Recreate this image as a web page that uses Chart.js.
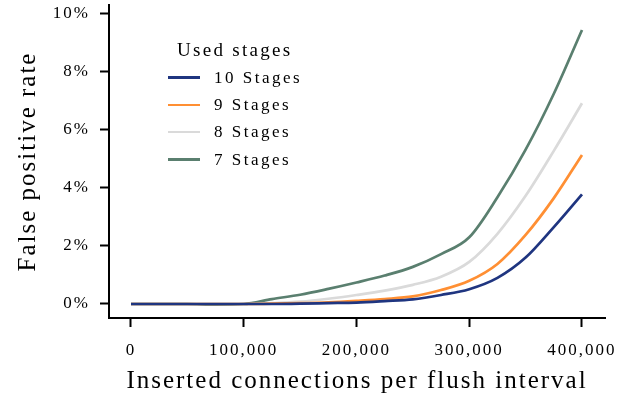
<!DOCTYPE html>
<html>
<head>
<meta charset="utf-8">
<script src="https://cdn.jsdelivr.net/npm/chart.js@4/dist/chart.umd.min.js"></script>
<style>
    html, body { margin: 0; padding: 0; background: #fff; }
    #wrap { position: relative; width: 631px; height: 398px; }
    #legend {
        position: absolute; left: 162px; top: 36px;
        font-family: 'Liberation Serif', serif; color: #000;
    }
    #legend .title { font-size: 19px; letter-spacing: 2.3px; margin-left: 15px; height: 28px; line-height: 28px; }
    #legend .item { display: flex; align-items: center; height: 27.3px; font-size: 17px; letter-spacing: 2.5px; }
    #legend .swatch { width: 32px; height: 2.5px; margin: 0 14px 0 6px; }
</style>
</head>
<body>
<div id="wrap">
    <canvas id="fprChart" width="631" height="398"></canvas>
    <div id="legend"></div>
</div>
<script>
// inserted connections per flush interval
const connections = [0, 25000, 50000, 75000, 100000, 125000, 150000, 175000, 200000, 225000, 250000, 275000, 300000, 325000, 350000, 375000, 400000];

// false positive rate in percent
const stages10 = [0, 0, 0, 0, 0, 0, 0.01, 0.03, 0.05, 0.10, 0.16, 0.31, 0.51, 0.90, 1.60, 2.65, 3.78];
const stages9  = [0, 0, 0, 0, 0, 0.01, 0.03, 0.06, 0.11, 0.17, 0.26, 0.48, 0.80, 1.38, 2.38, 3.65, 5.14];
const stages8  = [0, 0, 0, 0, 0, 0.03, 0.08, 0.18, 0.31, 0.46, 0.66, 0.94, 1.45, 2.42, 3.73, 5.28, 6.92];
const stages7  = [0, 0, 0, -0.02, 0, 0.17, 0.32, 0.52, 0.74, 0.98, 1.28, 1.72, 2.30, 3.68, 5.32, 7.25, 9.45];

const xTicks = [0, 100000, 200000, 300000, 400000];
const yTicks = [0, 2, 4, 6, 8, 10];

const series = [
    { label: '10 Stages', values: stages10, color: '#1f3580' },
    { label: '9 Stages', values: stages9, color: '#ff8f33' },
    { label: '8 Stages', values: stages8, color: '#dadada' },
    { label: '7 Stages', values: stages7, color: '#5a7f6f' }
];

const serif = "'Liberation Serif', serif";

// wider tracking for all canvas text, like the original figure
const tracking = {
    id: 'tracking',
    beforeDraw(chart) { chart.ctx.letterSpacing = '2px'; },
    afterDraw(chart) { chart.ctx.letterSpacing = '0px'; }
};

new Chart(document.getElementById('fprChart'), {
    type: 'line',
    data: {
        datasets: series.map(s => ({
            label: s.label,
            data: connections.map((c, i) => ({ x: c, y: s.values[i] })),
            borderColor: s.color,
            backgroundColor: s.color,
            borderWidth: 2.7,
            pointRadius: 0,
            cubicInterpolationMode: 'monotone'
        }))
    },
    options: {
        responsive: false,
        animation: false,
        layout: { padding: { top: 5, right: 26, left: 0, bottom: 0 } },
        scales: {
            x: {
                type: 'linear',
                min: -19500,
                max: 420400,
                afterBuildTicks: scale => { scale.ticks = xTicks.map(v => ({ value: v })); },
                afterFit: scale => { scale.height = 80; scale.paddingLeft = 0; scale.paddingRight = 0; },
                grid: { drawOnChartArea: false, tickLength: 9, tickWidth: 2, tickColor: '#000' },
                border: { color: '#000', width: 2 },
                ticks: {
                    color: '#000',
                    font: { family: serif, size: 17 },
                    padding: 13,
                    maxRotation: 0,
                    callback: v => v.toLocaleString('en-US')
                },
                title: {
                    display: true,
                    text: 'Inserted connections per flush interval',
                    color: '#000',
                    font: { family: serif, size: 25 },
                    padding: { top: 0, bottom: 2 }
                }
            },
            y: {
                min: -0.483,
                max: 10.31,
                afterBuildTicks: scale => { scale.ticks = yTicks.map(v => ({ value: v })); },
                afterFit: scale => { scale.width = 109; scale.paddingTop = 0; scale.paddingBottom = 0; },
                grid: { drawOnChartArea: false, tickLength: 9, tickWidth: 2, tickColor: '#000' },
                border: { color: '#000', width: 2 },
                ticks: {
                    color: '#000',
                    font: { family: serif, size: 17 },
                    padding: 10,
                    callback: v => v + '%'
                },
                title: {
                    display: true,
                    text: 'False positive rate',
                    color: '#000',
                    font: { family: serif, size: 25 },
                    padding: { top: 13, bottom: 0 }
                }
            }
        },
        plugins: {
            legend: { display: false },
            tooltip: { enabled: false }
        }
    },
    plugins: [tracking]
});

// legend as html so its text stays text
const legend = document.getElementById('legend');
legend.innerHTML = '<div class="title">Used stages</div>' + series.map(s =>
    '<div class="item"><span class="swatch" style="background:' + s.color + '"></span>' + s.label + '</div>'
).join('');
</script>
</body>
</html>
